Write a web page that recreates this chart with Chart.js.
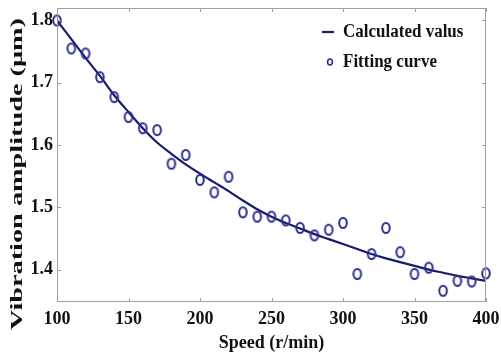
<!DOCTYPE html>
<html><head><meta charset="utf-8">
<script src="https://cdn.jsdelivr.net/npm/chart.js@4/dist/chart.umd.min.js"></script>
<style>html,body{margin:0;padding:0;background:#fff}#wrap{width:501px;height:357px}</style>
</head><body><div id="wrap"><canvas id="c" width="501" height="357"></canvas></div>
<script>
const speeds = [100,110,120,130,140,150,160,170,180,190,200,210,220,230,240,250,260,270,280,290,300,310,320,330,340,350,360,370,380,390,400];
const fittingValues = [1.800,1.755,1.747,1.709,1.677,1.645,1.627,1.624,1.570,1.584,1.544,1.524,1.549,1.492,1.485,1.485,1.479,1.467,1.455,1.464,1.475,1.393,1.425,1.467,1.428,1.393,1.403,1.366,1.382,1.381,1.394];
const calculatedValues = [1.800,1.770,1.740,1.711,1.680,1.653,1.627,1.604,1.586,1.569,1.554,1.540,1.526,1.511,1.497,1.485,1.475,1.466,1.457,1.449,1.441,1.433,1.425,1.418,1.412,1.406,1.400,1.395,1.390,1.386,1.382];
const xTicks = [100,150,200,250,300,350,400];
const yTicks = [1.4,1.5,1.6,1.7,1.8];
const legendLabels = ['Calculated valus','Fitting curve'];
const xTitle = 'Speed (r/min)';
const yTitle = 'Vibration amplitude (μm)';

const FONT = '"Liberation Serif","Times New Roman",serif';
const LINE_COLOR = '#1b1b6b';
const MARK_COLOR = '#2a2e92';
const AXIS_COLOR = '#a0a0a0';

function ellipseMarker(rx, ry, lw){
  const c = document.createElement('canvas');
  c.width = Math.ceil(2*rx+lw+2); c.height = Math.ceil(2*ry+lw+2);
  const g = c.getContext('2d');
  g.strokeStyle = MARK_COLOR; g.lineWidth = lw;
  g.beginPath(); g.ellipse(c.width/2, c.height/2, rx, ry, 0, 0, Math.PI*2); g.stroke();
  return c;
}
const marker = ellipseMarker(3.8, 5, 2);

const frame = {
  id:'frame',
  afterDraw(chart){
    const {ctx, chartArea:a, scales:{x,y}} = chart;
    ctx.save();
    ctx.strokeStyle = AXIS_COLOR; ctx.lineWidth = 1;
    ctx.strokeRect(a.left+0.5, a.top+0.5, a.right-a.left-1, a.bottom-a.top-1);
    const t = 4;
    ctx.beginPath();
    xTicks.forEach(v=>{const px=Math.round(x.getPixelForValue(v))+0.5;
      ctx.moveTo(px,a.bottom);ctx.lineTo(px,a.bottom-t);
      ctx.moveTo(px,a.top);ctx.lineTo(px,a.top+t);});
    yTicks.forEach(v=>{const py=Math.round(y.getPixelForValue(v))+0.5;
      ctx.moveTo(a.left,py);ctx.lineTo(a.left+t,py);
      ctx.moveTo(a.right,py);ctx.lineTo(a.right-t,py);});
    ctx.stroke();
    // y title
    ctx.fillStyle = '#111';
    ctx.font = 'bold 16px '+FONT;
    ctx.textAlign='center'; ctx.textBaseline='middle';
    const w = ctx.measureText(yTitle).width;
    ctx.translate(18, 174);
    ctx.rotate(-Math.PI/2);
    ctx.scale(312/w, 1.0);
    ctx.fillText(yTitle, 0, 0);
    ctx.restore();
    // legend
    ctx.save();
    ctx.font = 'bold 17px '+FONT;
    ctx.fillStyle = '#111'; ctx.textAlign='left'; ctx.textBaseline='middle';
    ctx.strokeStyle = LINE_COLOR; ctx.lineWidth = 2.2;
    ctx.beginPath(); ctx.moveTo(322,32); ctx.lineTo(334,32); ctx.stroke();
    ctx.translate(343,32); ctx.scale(1,1.15); ctx.fillText(legendLabels[0], 0, 0);
    ctx.restore();
    ctx.save();
    ctx.font = 'bold 17px '+FONT;
    ctx.fillStyle = '#111'; ctx.textAlign='left'; ctx.textBaseline='middle';
    ctx.strokeStyle = MARK_COLOR; ctx.lineWidth = 1.6;
    ctx.beginPath(); ctx.ellipse(330,62,2.4,3,0,0,Math.PI*2); ctx.stroke();
    ctx.translate(343,62); ctx.scale(1,1.15); ctx.fillText(legendLabels[1], 0, 0);
    ctx.restore();
  }
};

new Chart(document.getElementById('c'), {
  type:'scatter',
  data:{datasets:[
    {label:legendLabels[0], type:'line', data:speeds.map((s,i)=>({x:s,y:calculatedValues[i]})),
     borderColor:LINE_COLOR, borderWidth:2.2, pointRadius:0, tension:0.4, cubicInterpolationMode:'monotone', fill:false, order:1},
    {label:legendLabels[1], data:speeds.map((s,i)=>({x:s,y:fittingValues[i]})),
     pointStyle:marker, pointRadius:5, borderColor:MARK_COLOR, backgroundColor:'rgba(0,0,0,0)', order:0, clip:false}
  ]},
  options:{
    responsive:false, animation:false, events:[],
    layout:{padding:{left:0,right:15,top:8,bottom:0}},
    plugins:{legend:{display:false}, tooltip:{enabled:false}},
    scales:{
      x:{type:'linear', min:100, max:400,
        afterBuildTicks:s=>{s.ticks = xTicks.map(v=>({value:v}));},
        afterFit:s=>{s.height=55; s.paddingRight=0; s.paddingLeft=0;},
        grid:{display:false, drawTicks:false},
        border:{display:false},
        ticks:{padding:7, color:'#111', font:{family:FONT, size:18, weight:'bold'}, maxRotation:0},
        title:{display:true, text:xTitle, color:'#111', font:{family:FONT, size:18, weight:'bold'}, padding:{top:0,bottom:3}}
      },
      y:{type:'linear', min:1.348, max:1.82,
        afterBuildTicks:s=>{s.ticks = yTicks.map(v=>({value:v}));},
        afterFit:s=>{s.width=57; s.paddingTop=0; s.paddingBottom=0;},
        grid:{display:false, drawTicks:false},
        border:{display:false},
        ticks:{padding:4, color:'#111', font:{family:FONT, size:18, weight:'bold'}, callback:v=>v.toFixed(1)}
      }
    }
  },
  plugins:[frame]
});
</script></body></html>
